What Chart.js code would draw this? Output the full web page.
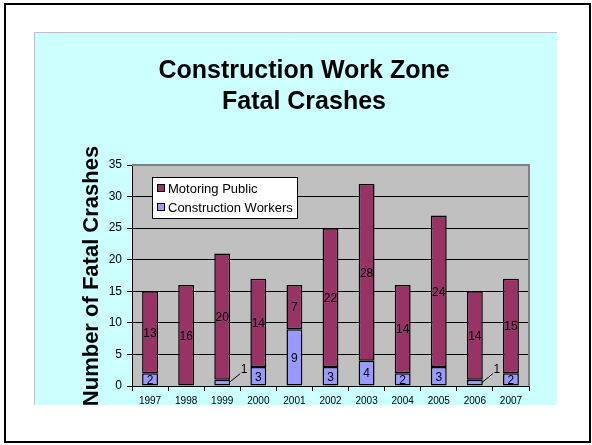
<!DOCTYPE html>
<html>
<head>
<meta charset="utf-8">
<script src="https://cdn.jsdelivr.net/npm/chart.js@4/dist/chart.umd.min.js"></script>
<style>
  html, body { margin: 0; padding: 0; background: #ffffff; }
  #wrap { position: relative; width: 592px; height: 445px; }
</style>
</head>
<body>
<div id="wrap"><canvas id="c" width="592" height="445"></canvas></div>
<script>
const years = ['1997','1998','1999','2000','2001','2002','2003','2004','2005','2006','2007'];
const constructionWorkers = [2, 0, 1, 3, 9, 3, 4, 2, 3, 1, 2];
const motoringPublic = [13, 16, 20, 14, 7, 22, 28, 14, 24, 14, 15];
const yTicks = [0, 5, 10, 15, 20, 25, 30, 35];
const titleLines = ['Construction Work Zone', 'Fatal Crashes'];
const yTitle = 'Number of Fatal Crashes';

const FONT = '"Liberation Sans", Arial, sans-serif';

const frame = {
  id: 'frame',
  beforeDraw(chart) {
    const ctx = chart.ctx;
    const a = chart.chartArea;
    ctx.save();
    ctx.fillStyle = '#ffffff';
    ctx.fillRect(0, 0, 592, 445);
    ctx.strokeStyle = '#000000';
    ctx.lineWidth = 2;
    ctx.strokeRect(5, 4, 585, 438);
    ctx.fillStyle = '#CCFFFF';
    ctx.fillRect(34, 32, 523, 373);
    ctx.strokeStyle = '#BFBFBF';
    ctx.lineWidth = 1;
    ctx.beginPath();
    ctx.moveTo(34.5, 405); ctx.lineTo(34.5, 32.5); ctx.lineTo(557, 32.5);
    ctx.stroke();
    ctx.fillStyle = '#C0C0C0';
    ctx.fillRect(a.left, a.top, a.right - a.left, a.bottom - a.top);
    ctx.restore();
  },
  beforeDatasetsDraw(chart) {
    const ctx = chart.ctx;
    const a = chart.chartArea;
    ctx.save();
    ctx.strokeStyle = '#808080';
    ctx.lineWidth = 2;
    ctx.beginPath();
    ctx.moveTo(a.left, a.top); ctx.lineTo(a.right, a.top); ctx.lineTo(a.right, a.bottom);
    ctx.stroke();
    ctx.restore();
  },
  afterDraw(chart) {
    const ctx = chart.ctx;
    ctx.save();
    ctx.fillStyle = '#000000';
    ctx.font = 'bold 25px ' + FONT;
    ctx.textAlign = 'center';
    ctx.textBaseline = 'middle';
    ctx.fillText(titleLines[0], 304, 71);
    ctx.fillText(titleLines[1], 304, 102);
    ctx.save();
    ctx.translate(92, 276);
    ctx.rotate(-Math.PI / 2);
    ctx.font = 'bold 22px ' + FONT;
    ctx.fillText(yTitle, 0, 0);
    ctx.restore();
    const lx = 152, ly = 177, lw = 145, lh = 41;
    ctx.fillStyle = '#ffffff';
    ctx.fillRect(lx, ly, lw, lh);
    ctx.strokeStyle = '#000000';
    ctx.lineWidth = 1;
    ctx.strokeRect(lx + 0.5, ly + 0.5, lw, lh);
    const items = [
      { text: chart.data.datasets[1].label, color: chart.data.datasets[1].backgroundColor, y: ly + 11 },
      { text: chart.data.datasets[0].label, color: chart.data.datasets[0].backgroundColor, y: ly + 30 }
    ];
    ctx.font = '13px ' + FONT;
    ctx.textAlign = 'left';
    items.forEach(it => {
      ctx.fillStyle = it.color;
      ctx.fillRect(lx + 5, it.y - 4, 8, 8);
      ctx.strokeStyle = '#000000';
      ctx.strokeRect(lx + 5.5, it.y - 3.5, 7, 7);
      ctx.fillStyle = '#000000';
      ctx.fillText(it.text, lx + 16, it.y + 1);
    });
    ctx.font = '12px ' + FONT;
    ctx.textAlign = 'center';
    ctx.textBaseline = 'middle';
    chart.data.datasets.forEach((ds, di) => {
      const meta = chart.getDatasetMeta(di);
      meta.data.forEach((bar, i) => {
        const v = ds.data[i];
        if (!v) return;
        const props = bar.getProps(['x', 'y', 'base', 'width'], true);
        if (v === 1) {
          const tx = props.x + props.width / 2 + 14;
          const ty = props.y - 10;
          ctx.strokeStyle = '#000000';
          ctx.lineWidth = 1;
          ctx.beginPath();
          ctx.moveTo(props.x + props.width / 2 - 1, (props.y + props.base) / 2);
          ctx.lineTo(tx - 4, ty + 4);
          ctx.stroke();
          ctx.fillStyle = '#000000';
          ctx.fillText(String(v), tx, ty);
        } else {
          ctx.fillStyle = '#000000';
          ctx.fillText(String(v), props.x, (props.y + props.base) / 2 + 1);
        }
      });
    });
    ctx.restore();
  }
};

const bw = ctx => (ctx.raw ? 1.5 : 0);

new Chart(document.getElementById('c'), {
  type: 'bar',
  data: {
    labels: years,
    datasets: [
      {
        label: 'Construction Workers',
        data: constructionWorkers,
        backgroundColor: '#9999FF',
        borderColor: '#000000',
        borderWidth: bw,
        borderSkipped: false,
        barPercentage: 0.44,
        categoryPercentage: 1.0,
        stack: 's'
      },
      {
        label: 'Motoring Public',
        data: motoringPublic,
        backgroundColor: '#993366',
        borderColor: '#000000',
        borderWidth: bw,
        borderSkipped: false,
        barPercentage: 0.44,
        categoryPercentage: 1.0,
        stack: 's'
      }
    ]
  },
  options: {
    responsive: false,
    animation: false,
    devicePixelRatio: 1,
    layout: { padding: { left: 0, right: 63, top: 165, bottom: 29 } },
    plugins: {
      legend: { display: false },
      title: { display: false },
      tooltip: { enabled: false }
    },
    scales: {
      x: {
        stacked: true,
        afterFit(scale) { scale.height = 30; },
        grid: {
          offset: true,
          drawOnChartArea: false,
          drawTicks: true,
          tickLength: 5,
          color: '#000000'
        },
        border: { display: true, color: '#000000', width: 1 },
        ticks: {
          color: '#000000',
          font: { family: FONT, size: 10 },
          padding: 4,
          maxRotation: 0,
          autoSkip: false
        }
      },
      y: {
        stacked: true,
        min: 0,
        max: 35,
        afterFit(scale) { scale.width = 132; },
        afterBuildTicks(scale) { scale.ticks = yTicks.map(v => ({ value: v })); },
        grid: {
          drawTicks: true,
          tickLength: 5,
          color: '#000000',
          lineWidth: 1
        },
        border: { display: true, color: '#000000', width: 1 },
        ticks: {
          color: '#000000',
          font: { family: FONT, size: 12 },
          padding: 5
        }
      }
    }
  },
  plugins: [frame]
});
</script>
</body>
</html>
